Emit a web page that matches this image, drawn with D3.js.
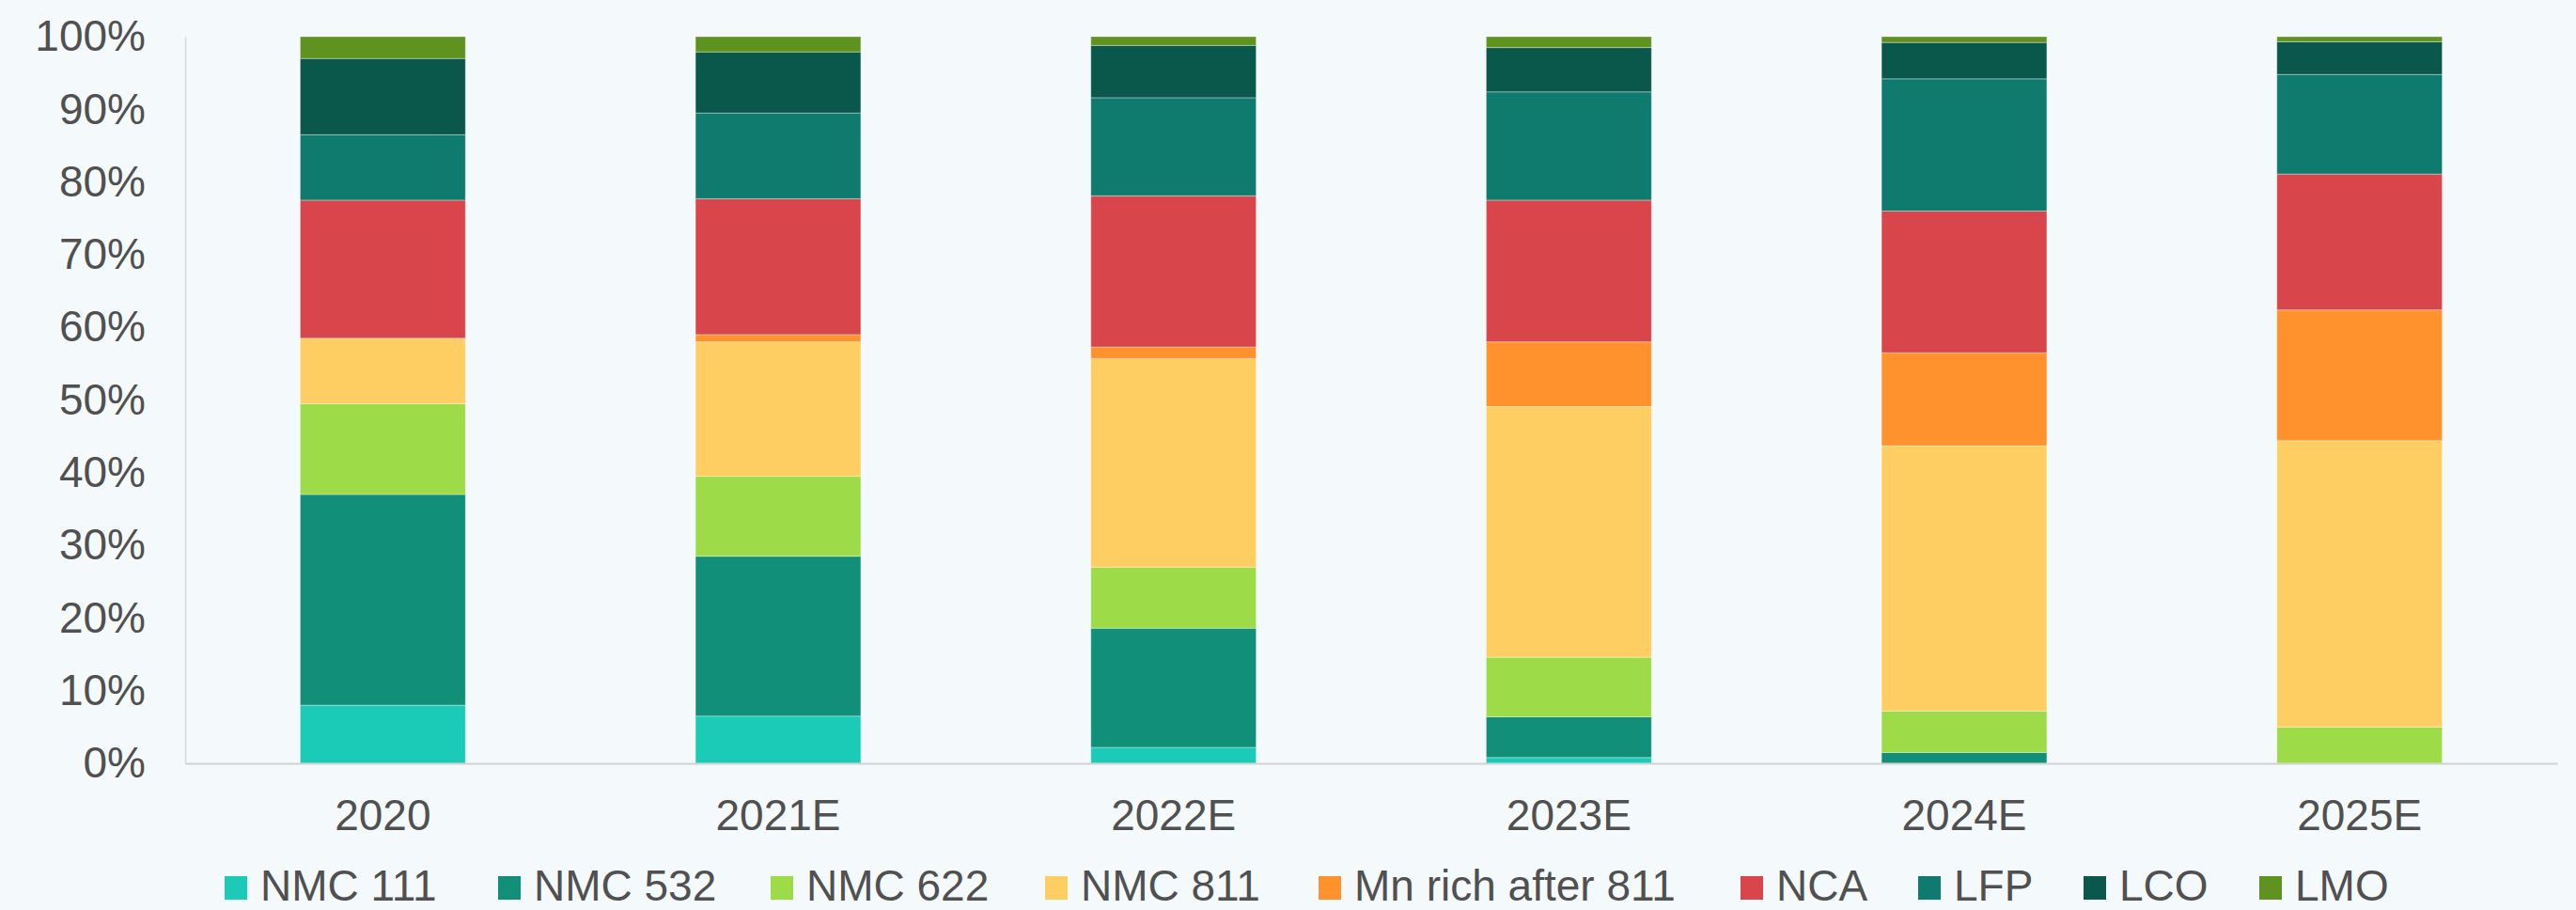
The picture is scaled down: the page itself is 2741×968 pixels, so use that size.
<!DOCTYPE html>
<html>
<head>
<meta charset="utf-8">
<script src="https://cdn.jsdelivr.net/npm/d3@7"></script>
<style>
  html, body { margin: 0; padding: 0; background: #F4F9FC; }
  svg { display: block; }
  text { font-family: "Liberation Sans", Arial, sans-serif; fill: #505050; }
</style>
</head>
<body>
<svg id="chart" width="2741" height="968"></svg>
<script>
// Cathode chemistry mix by year (share of total, %)
const years = ["2020", "2021E", "2022E", "2023E", "2024E", "2025E"];
const chemistries = ["NMC 111", "NMC 532", "NMC 622", "NMC 811", "Mn rich after 811", "NCA", "LFP", "LCO", "LMO"];
const colors = ["#1BCBB7", "#118F78", "#9DDC48", "#FFCE62", "#FF922D", "#D8454A", "#0F7A6E", "#0A574B", "#5F921E"];

const nmc111 = [8.0, 6.5, 2.2, 0.8, 0.0, 0.0];
const nmc532 = [29.0, 22.0, 16.4, 5.6, 1.5, 0.0];
const nmc622 = [12.5, 11.0, 8.4, 8.2, 5.7, 5.0];
const nmc811 = [9.0, 18.5, 28.7, 34.5, 36.5, 39.4];
const mnRich = [0.0, 1.0, 1.6, 8.9, 12.8, 18.0];
const nca = [19.0, 18.7, 20.8, 19.5, 19.5, 18.7];
const lfp = [9.0, 11.8, 13.5, 14.9, 18.2, 13.7];
const lco = [10.5, 8.4, 7.2, 6.1, 5.0, 4.5];
const lmo = [3.0, 2.1, 1.2, 1.5, 0.8, 0.7];

const yTicks = [0, 10, 20, 30, 40, 50, 60, 70, 80, 90, 100];

const seriesValues = [nmc111, nmc532, nmc622, nmc811, mnRich, nca, lfp, lco, lmo];
const rows = years.map((y, i) => {
  const r = { year: y };
  chemistries.forEach((c, k) => { r[c] = seriesValues[k][i]; });
  return r;
});

// layout
const svg = d3.select("#chart");
const plotLeft = 197, plotRight = 2721, plotTop = 39, plotBottom = 812;
const legendItemX = [239, 530, 820, 1112, 1403, 1852, 2041, 2217, 2404];
const fontSize = 46;

const x = d3.scaleBand()
  .domain(years)
  .range([plotLeft, plotRight])
  .paddingInner(0.582)
  .paddingOuter(0.291);

const y = d3.scaleLinear()
  .domain([0, 100])
  .range([plotBottom, plotTop]);

const color = d3.scaleOrdinal().domain(chemistries).range(colors);

const stacked = d3.stack().keys(chemistries)(rows);

// stacked bars
svg.append("g")
  .selectAll("g")
  .data(stacked)
  .join("g")
  .attr("fill", d => color(d.key))
  .selectAll("rect")
  .data(d => d.filter(s => s[1] - s[0] > 0))
  .join("rect")
  .attr("x", d => x(d.data.year))
  .attr("width", x.bandwidth())
  .attr("y", d => y(d[1]))
  .attr("height", d => y(d[0]) - y(d[1]))
  .attr("stroke", "rgba(255,255,255,0.35)")
  .attr("stroke-width", 1);

// y axis
const yAxis = svg.append("g")
  .attr("transform", `translate(${plotLeft},0)`)
  .call(d3.axisLeft(y).tickValues(yTicks).tickFormat(d => d + "%").tickSize(0).tickPadding(42));
yAxis.select(".domain").attr("stroke", "#D9D9D9").attr("stroke-width", 1.5);
yAxis.selectAll(".tick text")
  .attr("font-size", fontSize)
  .attr("fill", "#505050")
  .attr("font-family", "Liberation Sans, Arial, sans-serif");

// x axis
const xAxis = svg.append("g")
  .attr("transform", `translate(0,${y(0)})`)
  .call(d3.axisBottom(x).tickSize(0).tickPadding(38));
xAxis.select(".domain").attr("stroke", "#D2D2D2").attr("stroke-width", 2);
xAxis.selectAll(".tick text")
  .attr("font-size", fontSize)
  .attr("fill", "#505050")
  .attr("font-family", "Liberation Sans, Arial, sans-serif");

// legend
const legend = svg.append("g");
chemistries.forEach((c, i) => {
  const g = legend.append("g").attr("transform", `translate(${legendItemX[i]},0)`);
  g.append("rect")
    .attr("x", 0).attr("y", 932)
    .attr("width", 24).attr("height", 25)
    .attr("fill", color(c));
  g.append("text")
    .attr("x", 38).attr("y", 958)
    .attr("font-size", fontSize)
    .text(c);
});
</script>
</body>
</html>
